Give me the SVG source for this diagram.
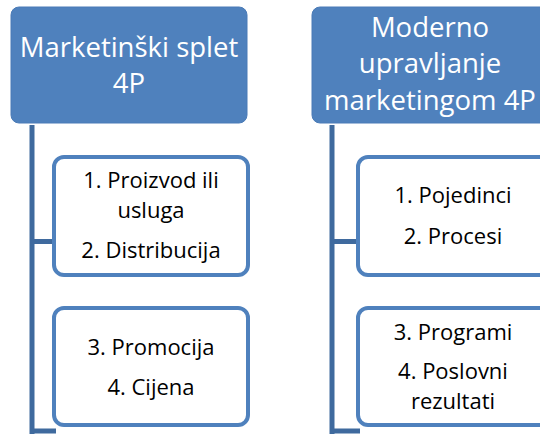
<svg xmlns="http://www.w3.org/2000/svg" width="540" height="434" viewBox="0 0 540 434">
<style>
.hdr{fill:#4F81BD;stroke:#4A7BB7;stroke-width:1}
.box{fill:#FFFFFF;stroke:#4F81BD;stroke-width:4}
.conn{stroke:#3F6A9E;stroke-width:5;fill:none}
.ht{font-family:"Open Sans","Liberation Sans",sans-serif;font-size:27.5px;fill:#FFFFFF;text-anchor:middle}
.bt{font-family:"Open Sans","Liberation Sans",sans-serif;font-size:22px;fill:#000000;text-anchor:middle}
</style>
<rect width="540" height="434" fill="#FFFFFF"/>
<g id="connectors">
<path class="conn" d="M32 125 V434 M32 241.5 H54 M32 431 H56"/>
<path class="conn" d="M332 125 V434 M332 241.5 H358 M332 431 H360"/>
</g>
<g id="hdr-left">
<rect class="hdr" x="11" y="7" width="236" height="116" rx="8"/>
<text class="ht" x="129" y="57">Marketinški splet</text>
<text class="ht" x="129" y="93">4P</text>
</g>
<g id="box-left-1">
<rect class="box" x="54" y="157" width="194" height="118" rx="10"/>
<text class="bt" x="151" y="188">1. Proizvod ili</text>
<text class="bt" x="151" y="218">usluga</text>
<text class="bt" x="151" y="258">2. Distribucija</text>
</g>
<g id="box-left-2">
<rect class="box" x="54" y="308" width="194" height="117" rx="10"/>
<text class="bt" x="151" y="355">3. Promocija</text>
<text class="bt" x="151" y="395">4. Cijena</text>
</g>
<g id="hdr-right">
<rect class="hdr" x="312" y="7" width="236" height="116" rx="8"/>
<text class="ht" x="430" y="37">Moderno</text>
<text class="ht" x="430" y="73">upravljanje</text>
<text class="ht" x="430" y="110">marketingom 4P</text>
</g>
<g id="box-right-1">
<rect class="box" x="358" y="157" width="194" height="118" rx="10"/>
<text class="bt" x="453" y="203">1. Pojedinci</text>
<text class="bt" x="453" y="244">2. Procesi</text>
</g>
<g id="box-right-2">
<rect class="box" x="358" y="308" width="194" height="117" rx="10"/>
<text class="bt" x="453" y="340">3. Programi</text>
<text class="bt" x="453" y="379">4. Poslovni</text>
<text class="bt" x="453" y="409">rezultati</text>
</g>
</svg>
